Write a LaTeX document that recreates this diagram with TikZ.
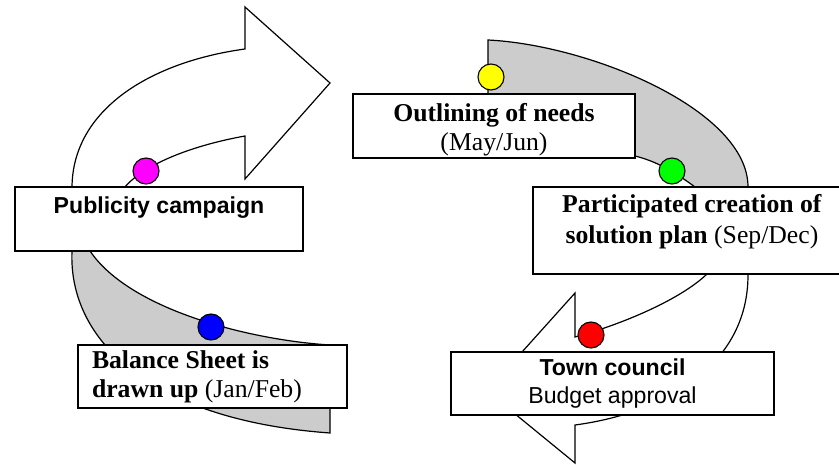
\documentclass[tikz,border=0pt]{standalone}
\usepackage{fontspec}
\setmainfont{Liberation Serif}
\setsansfont{Liberation Sans}
\usepackage{xcolor}
\definecolor{ribgray}{RGB}{204,204,204}
\definecolor{dotmagenta}{RGB}{255,0,255}
\definecolor{dotblue}{RGB}{0,0,255}
\definecolor{dotyellow}{RGB}{255,255,0}
\definecolor{dotgreen}{RGB}{0,255,0}
\definecolor{dotred}{RGB}{255,0,0}
\newcommand{\boxsans}{\fontsize{23.1}{28}\selectfont}
\newcommand{\boxserif}{\fontsize{25.7}{29}\selectfont}
\usetikzlibrary{positioning}

\begin{document}
\begin{tikzpicture}[x=1pt, y=-1pt,
  sbox/.style={rectangle, draw=black, fill=white, line width=1.5pt,
               inner sep=0pt, align=center},
  ribbon/.style={draw=black, line width=1.2pt, line join=miter},
  dot/.style={circle, draw=black, line width=1.1pt, minimum size=26pt, inner sep=0pt}
]
\clip (0,0) rectangle (839,465);

% Ribbons (behind the boxes)
\draw[ribbon, fill=white] (72,215) -- (72,188)
  .. controls (72,110) and (150,62) .. (245,49) -- (245,7) -- (330,83)
  -- (245,179) -- (245,136) .. controls (195,145) and (145,163) .. (124,188)
  -- (124,215) -- cycle;
\draw[ribbon, fill=ribgray] (72,230) -- (72,251)
  .. controls (68,340) and (150,420) .. (330,433) -- (330,345)
  .. controls (250,340) and (130,310) .. (90,251) -- (90,230) -- cycle;
\draw[ribbon, fill=ribgray] (560,125) -- (488,125) -- (488,40)
  .. controls (590,45) and (748,110) .. (748,187) -- (748,230) -- (695,230)
  -- (695,187) .. controls (672,170) and (655,161) .. (635,156) -- cycle;
\draw[ribbon, fill=white] (748,250) -- (748,275)
  .. controls (748,365) and (665,413) .. (575,425) -- (575,463) -- (487,391)
  -- (575,293) -- (575,337) .. controls (620,325) and (680,300) .. (707,274)
  -- (707,250) -- cycle;

% Boxes
\node[sbox, minimum width=288, minimum height=64, font=\sffamily\bfseries\boxsans]
  (pub) at (159,219) {Publicity campaign\\\mbox{}};
\node[sbox, minimum width=269, minimum height=63, text width=241, inner xsep=14,
      align=flush left, font=\boxserif]
  (bal) at (212.5,376.5) {\textbf{Balance Sheet is}\\\textbf{drawn up} (Jan/Feb)};
\node[sbox, minimum width=282, minimum height=64, font=\boxserif]
  (outl) at (494,126) {\rule{0pt}{26.5pt}\textbf{Outlining of needs}\\(May/Jun)};
\node[sbox, minimum width=318, minimum height=87, font=\boxserif]
  (part) at (692,230.5) {\textbf{Participated creation of}\\[2pt]\textbf{solution plan} (Sep/Dec)\\[-6pt]\mbox{}};
\node[sbox, minimum width=323, minimum height=63, font=\sffamily\boxsans]
  (town) at (612.5,383.5) {\textbf{Town council}\\Budget approval};

% Dots
\node[dot, fill=dotmagenta] (dpub)  at (146,171) {};
\node[dot, fill=dotblue]    (dbal)  at (211,327) {};
\node[dot, fill=dotyellow]  (doutl) at (491,77)  {};
\node[dot, fill=dotgreen]   (dpart) at (672,171) {};
\node[dot, fill=dotred]     (dtown) at (591,335) {};
\end{tikzpicture}
\end{document}
